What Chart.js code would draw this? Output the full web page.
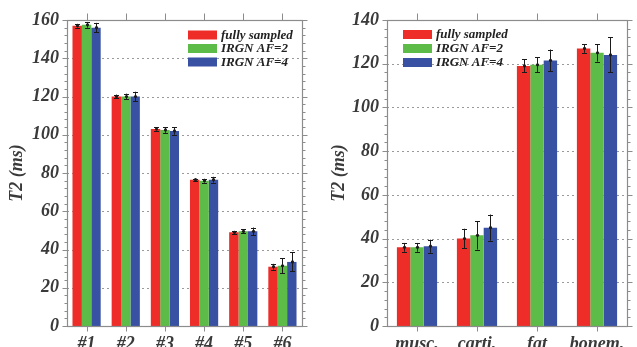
<!DOCTYPE html>
<html>
<head>
<meta charset="utf-8">
<script src="https://cdn.jsdelivr.net/npm/chart.js@4/dist/chart.umd.min.js"></script>
<style>
html,body{margin:0;padding:0;background:#fff;width:637px;height:347px;overflow:hidden;}
#wl{position:absolute;left:0;top:0;width:318px;height:347px;}
#wr{position:absolute;left:318px;top:0;width:319px;height:347px;}
</style>
</head>
<body>
<div id="wl"><canvas id="cl" width="318" height="347"></canvas></div>
<div id="wr"><canvas id="cr" width="319" height="347"></canvas></div>
<script>
// ---- data ----
const seriesNames = ['fully sampled', 'IRGN AF=2', 'IRGN AF=4'];

const leftCats = ['#1', '#2', '#3', '#4', '#5', '#6'];
const leftFull = [157, 120, 103, 76.5, 49, 31];
const leftAF2 = [157.5, 120, 102.5, 76, 49.5, 31.5];
const leftAF4 = [156, 120, 102, 76.5, 49.5, 33.5];
const leftFullErr = [1, 1, 0.8, 0.5, 0.7, 1.5];
const leftAF2Err = [1.5, 1.5, 1.5, 1, 1, 4];
const leftAF4Err = [2.5, 2.5, 2, 1.5, 2, 5];
const leftTicksMax = 160;

const rightCats = ['musc.', 'carti.', 'fat', 'bonem.'];
const rightFull = [36, 40, 119, 127];
const rightAF2 = [36, 41.5, 119.5, 125];
const rightAF4 = [36.5, 45, 121.5, 124];
const rightFullErr = [2, 4.5, 3, 2];
const rightAF2Err = [2, 6.5, 3.5, 4];
const rightAF4Err = [3, 6, 5, 8];
const rightTicksMax = 140;

const colors = ['#ee2d29', '#5dbb47', '#3951a2'];
const FONT = '"Liberation Serif", "DejaVu Serif", serif';
const TXT = '#3a3a3a';

const decorPlugin = {
  id: 'decor',
  beforeDatasetsDraw(chart) {
    const {ctx, chartArea: a, scales: {x, y}} = chart;
    ctx.save();
    ctx.strokeStyle = '#9a9a9a';
    ctx.lineWidth = 1;
    ctx.setLineDash([2, 3]);
    y.ticks.forEach(t => {
      if (t.value <= y.min || t.value >= y.max) return;
      const py = Math.round(y.getPixelForValue(t.value)) + 0.5;
      ctx.beginPath(); ctx.moveTo(a.left, py); ctx.lineTo(a.right, py); ctx.stroke();
    });
    ctx.restore();
  },
  afterDatasetsDraw(chart) {
    const {ctx, chartArea: a, scales: {x, y}} = chart;
    ctx.save();
    ctx.strokeStyle = '#1a1a1a';
    ctx.lineWidth = 1;
    chart.data.datasets.forEach((ds, di) => {
      const meta = chart.getDatasetMeta(di);
      meta.data.forEach((bar, i) => {
        const v = ds.data[i], e = ds.errors[i];
        const cx = Math.round(bar.x) + 0.5;
        const yt = y.getPixelForValue(v + e), yb = y.getPixelForValue(v - e);
        ctx.beginPath();
        ctx.moveTo(cx, yt); ctx.lineTo(cx, yb);
        ctx.moveTo(cx - 2.5, Math.round(yt) + 0.5); ctx.lineTo(cx + 2.5, Math.round(yt) + 0.5);
        ctx.moveTo(cx - 2.5, Math.round(yb) + 0.5); ctx.lineTo(cx + 2.5, Math.round(yb) + 0.5);
        ctx.stroke();
        ctx.fillStyle = '#1a1a1a';
        ctx.beginPath(); ctx.arc(cx, y.getPixelForValue(v), 1.6, 0, Math.PI * 2); ctx.fill();
      });
    });
    ctx.strokeStyle = '#8c8c8c';
    ctx.lineWidth = 1.2;
    const L = Math.round(a.left) + 0.5, R = Math.round(a.right) + 0.5, T = Math.round(a.top) + 0.5, B = Math.round(a.bottom) + 0.5;
    ctx.strokeRect(L, T, R - L, B - T);
    ctx.lineWidth = 1;
    for (let v = y.min; v <= y.max + 0.001; v += 4) {
      const py = Math.round(y.getPixelForValue(v)) + 0.5;
      const len = (Math.abs(v % 20) < 0.001) ? 5 : 3;
      ctx.beginPath();
      ctx.moveTo(L - len, py); ctx.lineTo(L, py);
      ctx.moveTo(R, py); ctx.lineTo(R + len, py);
      ctx.stroke();
    }
    x.ticks.forEach((t, i) => {
      const px = Math.round(x.getPixelForValue(i)) + 0.5;
      ctx.beginPath();
      ctx.moveTo(px, T - 7); ctx.lineTo(px, T);
      ctx.moveTo(px, B); ctx.lineTo(px, B + 5);
      ctx.stroke();
    });
    const lg = chart.options.plugins.insideLegend;
    const lx = a.left + lg.dx;
    ctx.font = 'italic bold 13px ' + FONT;
    ctx.textBaseline = 'middle';
    ctx.textAlign = 'left';
    chart.data.datasets.forEach((ds, di) => {
      const ly = a.top + lg.dy + di * lg.step;
      ctx.fillStyle = ds.backgroundColor;
      ctx.fillRect(lx, ly, 29, 9);
      ctx.fillStyle = '#222';
      ctx.fillText(ds.label, lx + 33, ly + 5);
    });
    ctx.restore();
  }
};

function makeChart(id, cats, vals, errs, ymax, padRight, yWidth, legendCfg, titlePad) {
  return new Chart(document.getElementById(id), {
    type: 'bar',
    data: {
      labels: cats,
      datasets: vals.map((d, i) => ({
        label: seriesNames[i],
        data: d,
        errors: errs[i],
        backgroundColor: colors[i],
        borderWidth: 0,
        categoryPercentage: legendCfg.catPct,
        barPercentage: 1.0
      }))
    },
    options: {
      responsive: false,
      animation: false,
      devicePixelRatio: 1,
      layout: {padding: {left: 0, right: padRight, top: 20, bottom: 0}},
      plugins: {
        legend: {display: false},
        tooltip: {enabled: false},
        insideLegend: legendCfg
      },
      scales: {
        x: {
          grid: {display: false, drawTicks: false},
          border: {display: false},
          ticks: {color: TXT, font: {family: FONT, size: 18, style: 'italic', weight: 'bold'}, padding: 8, maxRotation: 0, autoSkip: false},
          afterFit: s => { s.height = 21; }
        },
        y: {
          min: 0, max: ymax,
          grid: {display: false, drawTicks: false},
          border: {display: false},
          ticks: {stepSize: 20, color: TXT, font: {family: FONT, size: 18, style: 'italic', weight: 'bold'}, padding: 8},
          title: {display: true, text: 'T2 (ms)', color: TXT, font: {family: FONT, size: 18, style: 'italic', weight: 'bold'}, padding: {top: titlePad, bottom: 0}},
          afterFit: s => { s.width = yWidth; }
        }
      }
    },
    plugins: [decorPlugin]
  });
}

makeChart('cl', leftCats, [leftFull, leftAF2, leftAF4], [leftFullErr, leftAF2Err, leftAF4Err],
  leftTicksMax, 16, 67, {dx: 121, dy: 10.5, step: 13.5, catPct: 0.72}, 7);
makeChart('cr', rightCats, [rightFull, rightAF2, rightAF4], [rightFullErr, rightAF2Err, rightAF4Err],
  rightTicksMax, 10, 69, {dx: 16, dy: 10, step: 14, catPct: 0.67}, 11);
</script>
</body>
</html>
